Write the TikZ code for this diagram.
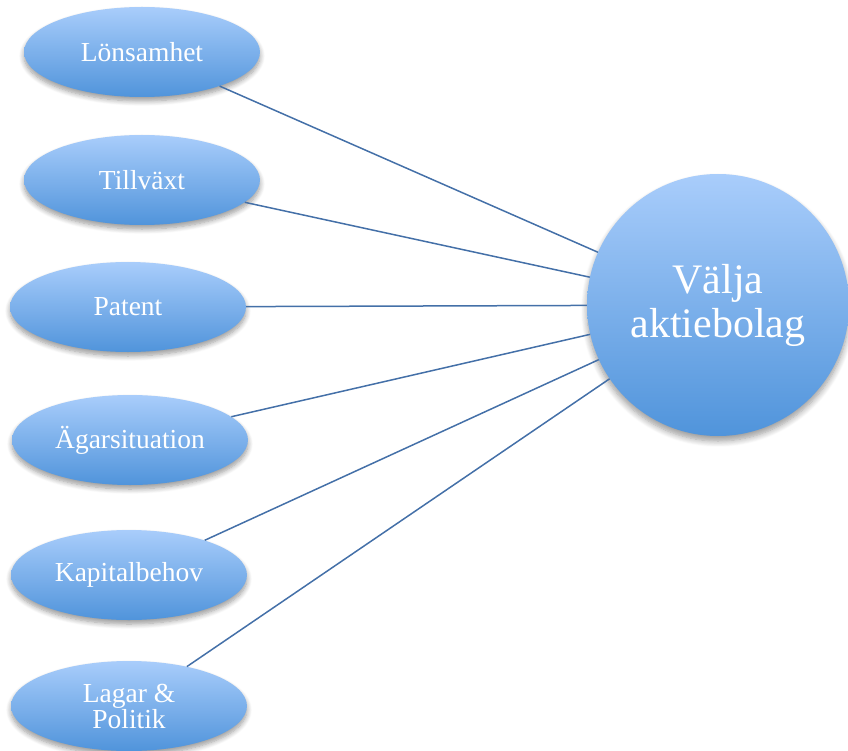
\documentclass[tikz,border=0pt]{standalone}
\usepackage{fontspec}
\setmainfont{Liberation Serif}
\usetikzlibrary{shapes.geometric,shadows.blur}
\definecolor{ljusbla}{HTML}{A9CDFB}
\definecolor{morkbla}{HTML}{5094DB}
\definecolor{linjebla}{HTML}{4470A8}

\tikzset{
  bubbla/.style={ellipse,minimum width=236pt,minimum height=90pt,inner sep=0pt,
    top color=ljusbla,bottom color=morkbla,draw=none,text=white,
    font=\fontsize{27.5}{26}\selectfont,align=center,
    blur shadow={shadow xshift=0pt,shadow yshift=-4pt,shadow blur steps=8,shadow blur radius=5pt}},
  stor/.style={circle,minimum size=262pt,inner sep=0pt,
    top color=ljusbla,bottom color=morkbla,draw=none,text=white,
    font=\fontsize{42}{44}\selectfont,align=center,
    blur shadow={shadow xshift=0pt,shadow yshift=-5pt,shadow blur steps=8,shadow blur radius=6pt}},
  linje/.style={draw=linjebla,line width=1.5pt}
}

\begin{document}
\begin{tikzpicture}[x=1pt,y=-1pt]
			\useasboundingbox (0,0) rectangle (848,751);
			% bubblor till vanster
			\node[bubbla] (lon) at (142,52) {L\"onsamhet};
			\node[bubbla] (till) at (142,180) {Tillv\"axt};
			\node[bubbla] (pat) at (128,307) {Patent};
			\node[bubbla] (agar) at (130,440) {\"Agarsituation};
			\node[bubbla] (kap) at (129,575) {Kapitalbehov};
			\node[bubbla] (lag) at (129,706) {Lagar \&\\Politik};
			% stora cirkeln
			\node[stor] (valja) at (718,305) {V\"alja\\aktiebolag};
			% linjer
			\draw[linje] (lon) -- (valja);
			\draw[linje] (till) -- (valja);
			\draw[linje] (pat) -- (valja);
			\draw[linje] (agar) -- (valja);
			\draw[linje] (kap) -- (valja);
			\draw[linje] (lag) -- (valja);
		\end{tikzpicture}
\end{document}
